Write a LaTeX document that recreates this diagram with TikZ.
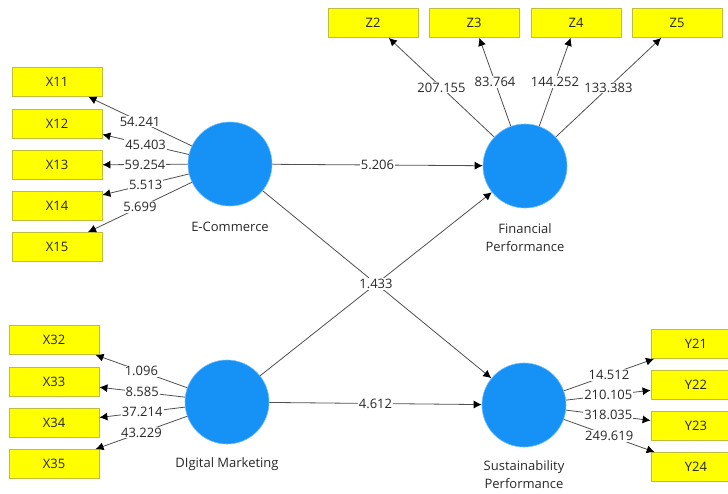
\documentclass[tikz,border=0pt]{standalone}
\usepackage{fontspec}
\setmainfont{Open Sans}
\usepackage{tikz}
\usetikzlibrary{arrows.meta}
\usetikzlibrary{positioning}
\usepackage{xcolor}
\definecolor{latentblue}{RGB}{22,145,245}
\definecolor{itemyellow}{RGB}{255,255,0}
\definecolor{itemborder}{RGB}{190,190,60}
\definecolor{pathgray}{RGB}{80,80,80}
\definecolor{labelgray}{RGB}{40,40,40}
\tikzset{
  every node/.style={font=\fontsize{13}{18}\selectfont}
}

\begin{document}
\begin{tikzpicture}[x=1pt,y=-1pt]
  \tikzset{
    latent/.style={
      circle,
      fill=latentblue,
      draw=latentblue!60!white,
      line width=0.6pt,
      minimum size=84pt,
      inner sep=0pt
    },
    indicator/.style={
      draw=itemborder,
      fill=itemyellow,
      minimum width=90pt,
      minimum height=29pt,
      inner sep=0pt,
      line width=0.8pt,
      text=black!85
    },
    latentname/.style={
      align=center,
      text=labelgray
    },
    loading/.style={
      draw=pathgray,
      line width=0.8pt,
      -{Latex[length=8pt, width=8pt, color=black]}
    },
    coef/.style={
      fill=white,
      inner sep=1pt,
      text=labelgray
    }
  }
  \useasboundingbox (0,0) rectangle (728,493);

  % Latent constructs
  \node[latent] (ec) at (230,164) {};
  \node[latent] (fp) at (525,166) {};
  \node[latent] (dm) at (227,402) {};
  \node[latent] (sp) at (524,405) {};

  \node[latentname] (ecname) at (230,227) {E-Commerce};
  \node[latentname] (fpname) at (525,238) {Financial\\Performance};
  \node[latentname] (dmname) at (227,464) {DIgital Marketing};
  \node[latentname] (spname) at (524,475) {Sustainability\\Performance};

  % Indicators of E-Commerce
  \node[indicator] (x11) at (57,82) {X11};
  \node[indicator] (x12) at (57,124) {X12};
  \node[indicator] (x13) at (57,165) {X13};
  \node[indicator] (x14) at (57,206) {X14};
  \node[indicator] (x15) at (57,247) {X15};

  % Indicators of Financial Performance
  \node[indicator] (z2) at (373,23) {Z2};
  \node[indicator] (z3) at (474,23) {Z3};
  \node[indicator] (z4) at (576,23) {Z4};
  \node[indicator] (z5) at (677,23) {Z5};

  % Indicators of Digital Marketing
  \node[indicator] (x32) at (54,340) {X32};
  \node[indicator] (x33) at (54,382) {X33};
  \node[indicator] (x34) at (54,423) {X34};
  \node[indicator] (x35) at (54,464) {X35};

  % Indicators of Sustainability Performance
  \node[indicator] (y21) at (696,344) {Y21};
  \node[indicator] (y22) at (696,385) {Y22};
  \node[indicator] (y23) at (696,426) {Y23};
  \node[indicator] (y24) at (696,467) {Y24};

  % Outer loadings
  \draw[loading] (ec) -- node[coef] {54.241} (x11);
  \draw[loading] (ec) -- node[coef] {45.403} (x12);
  \draw[loading] (ec) -- node[coef] {59.254} (x13);
  \draw[loading] (ec) -- node[coef] {5.513} (x14);
  \draw[loading] (ec) -- node[coef] {5.699} (x15);

  \draw[loading] (fp) -- node[coef] {207.155} (z2);
  \draw[loading] (fp) -- node[coef] {83.764} (z3);
  \draw[loading] (fp) -- node[coef] {144.252} (z4);
  \draw[loading] (fp) -- node[coef] {133.383} (z5);

  \draw[loading] (dm) -- node[coef] {1.096} (x32);
  \draw[loading] (dm) -- node[coef] {8.585} (x33);
  \draw[loading] (dm) -- node[coef] {37.214} (x34);
  \draw[loading] (dm) -- node[coef] {43.229} (x35);

  \draw[loading] (sp) -- node[coef] {14.512} (y21);
  \draw[loading] (sp) -- node[coef] {210.105} (y22);
  \draw[loading] (sp) -- node[coef] {318.035} (y23);
  \draw[loading] (sp) -- node[coef] {249.619} (y24);

  % Structural paths
  \draw[loading] (ec) -- node[coef] {5.206} (fp);
  \draw[loading] (ec) -- (sp);
  \draw[loading] (dm) -- node[coef] {1.433} (fp);
  \draw[loading] (dm) -- node[coef] {4.612} (sp);
\end{tikzpicture}
\end{document}
